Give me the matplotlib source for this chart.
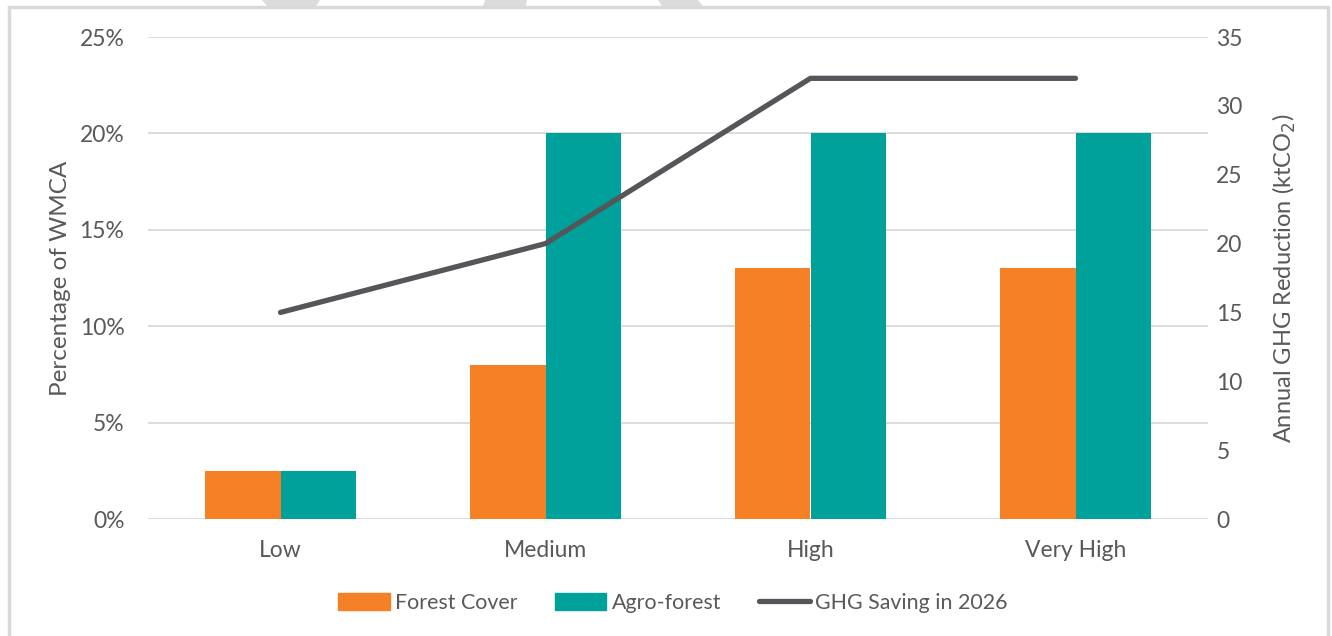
import matplotlib
matplotlib.use("Agg")
import matplotlib.pyplot as plt
from matplotlib.patches import Polygon, Rectangle
from matplotlib.lines import Line2D
import numpy as np

plt.rcParams['font.family'] = ['Lato', 'DejaVu Sans']

categories = ["Low", "Medium", "High", "Very High"]
forest_cover = [2.5, 8, 13, 13]        # % of WMCA
agro_forest = [2.5, 20, 20, 20]        # % of WMCA
ghg_saving = [15, 20, 32, 32]          # ktCO2 per year
pct_ticks = [0, 5, 10, 15, 20, 25]
ghg_ticks = [0, 5, 10, 15, 20, 25, 30, 35]

ORANGE = "#F58025"
TEAL = "#00A19A"
LINE = "#55565A"
TEXT = "#595959"
GRID = "#D9D9D9"

W, H = 1332, 636
fig = plt.figure(figsize=(W / 100, H / 100), dpi=100)
fig.patch.set_facecolor("white")


def fpt(x, y):
    return (x / W, 1 - y / H)


# chart frame
fig.add_artist(Rectangle((9 / W, -0.05), (1328 - 9) / W, 1 - 6.5 / H + 0.05,
                         transform=fig.transFigure, fill=False,
                         edgecolor="#D9D9D9", linewidth=2.5))
# shapes peeking in above the frame
for pts in ([(262, 0), (320, 0), (316, 6), (267, 6)],
            [(485, 0), (527, 0), (526, 6), (483, 6)],
            [(658, 0), (698, 0), (703, 6), (662, 6)]):
    fig.add_artist(Polygon([fpt(x, y) for x, y in pts], closed=True,
                           transform=fig.transFigure, facecolor="#DCDCDC",
                           edgecolor="none"))

ax = fig.add_axes([148 / W, 1 - 519 / H, (1208 - 148) / W, (519 - 37) / H])
x = np.arange(len(categories))
w = 0.285
ax.bar(x - w / 2, forest_cover, width=w, color=ORANGE, zorder=2, label="Forest Cover")
ax.bar(x + w / 2, agro_forest, width=w, color=TEAL, zorder=2, label="Agro-forest")

ax.set_xlim(-0.5, len(categories) - 0.5)
ax.set_ylim(0, 25)
ax.set_yticks(pct_ticks)
ax.set_yticklabels([f"{t}%" for t in pct_ticks])
ax.set_xticks(x)
ax.set_xticklabels(categories)
ax.grid(axis="y", color=GRID, linewidth=1.3, zorder=0)
ax.set_axisbelow(True)
for s in ax.spines.values():
    s.set_visible(False)
ax.tick_params(axis="both", length=0, labelsize=16.5, colors=TEXT)
ax.tick_params(axis="y", pad=17)
ax.tick_params(axis="x", pad=15)
ax.set_ylabel("Percentage of WMCA", fontsize=17.5, color=TEXT)
ax.yaxis.set_label_coords((71 - 148) / 1060, 0.5)

ax2 = ax.twinx()
ax2.plot(x, ghg_saving, color=LINE, linewidth=3.8, solid_capstyle="round",
         solid_joinstyle="round", zorder=3, label="GHG Saving in 2026")
ax2.set_ylim(0, 35)
ax2.set_yticks(ghg_ticks)
for s in ax2.spines.values():
    s.set_visible(False)
ax2.tick_params(axis="y", length=0, labelsize=16.5, colors=TEXT, pad=6)
ax2.set_ylabel("Annual GHG Reduction (ktCO$_2$)", fontsize=17, color=TEXT)
ax2.yaxis.set_label_coords((1271 - 148) / 1060, 0.5)

handles = [Rectangle((0, 0), 1, 1, color=ORANGE),
           Rectangle((0, 0), 1, 1, color=TEAL),
           Line2D([0], [0], color=LINE, linewidth=3.8, solid_capstyle="round")]
fig.legend(handles, ["Forest Cover", "Agro-forest", "GHG Saving in 2026"],
           loc="center", bbox_to_anchor=fpt(673, 603), ncol=3,
           frameon=False, fontsize=15.4, labelcolor=TEXT, handlelength=2.4,
           handleheight=0.8, handletextpad=0.25, columnspacing=1.75)

fig.savefig("out.png", dpi=100, facecolor="white")
